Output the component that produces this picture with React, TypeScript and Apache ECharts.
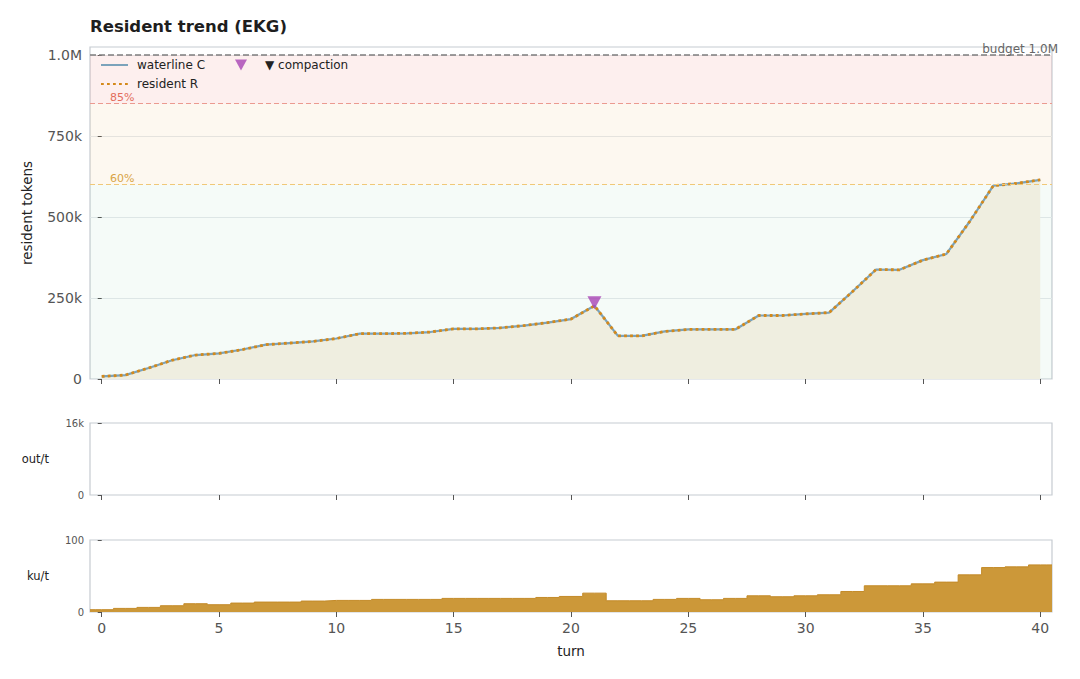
import React, { useEffect, useRef } from "react";
import * as echarts from "echarts";

const FONT = "DejaVu Sans";

// turn index = position in the arrays (0..40)
const waterline = [
  8000, 12000, 34000, 58000, 74000, 79000, 91000, 106000, 111000, 116000, 125000,
  140000, 140000, 141000, 145000, 155000, 155000, 158000, 165000, 174000, 185000,
  226000, 133000, 133000, 147000, 153000, 153000, 153000, 196000, 196000, 201000,
  205000, 270000, 338000, 337000, 367000, 386000, 487000, 597000, 604000, 615000,
];
const resident = [
  8000, 12000, 34000, 58000, 74000, 79000, 91000, 106000, 111000, 116000, 125000,
  140000, 140000, 141000, 145000, 155000, 155000, 158000, 165000, 174000, 185000,
  226000, 133000, 133000, 147000, 153000, 153000, 153000, 196000, 196000, 201000,
  205000, 270000, 338000, 337000, 367000, 386000, 487000, 597000, 604000, 615000,
];
const kuPerTurn = [
  3.2, 5.0, 6.4, 8.7, 11.5, 10.1, 12.4, 13.8, 13.8, 15.2, 16.1, 16.1, 17.5, 17.5,
  17.5, 18.9, 18.9, 18.9, 18.9, 20.2, 21.6, 26.2, 15.6, 15.6, 17.5, 18.9, 17.0,
  18.9, 22.5, 21.2, 22.5, 23.9, 28.5, 36.4, 36.4, 39.1, 41.5, 51.6, 61.7, 62.7, 65.4,
];
const outPerTurn: number[] = [];
const compactionTurns = [21];

const budget = 1000000;
const warnLevel = 600000; // 60%
const dangerLevel = 850000; // 85%
const xTicks = [0, 5, 10, 15, 20, 25, 30, 35, 40];
const yTicksTop = [0, 250000, 500000, 750000, 1000000];

const fmtTokens = (v: number) =>
  v === 0 ? "0" : v >= 1e6 ? (v / 1e6).toFixed(1) + "M" : Math.round(v / 1000) + "k";

const App: React.FC = () => {
  const chartRef = useRef<HTMLDivElement>(null);

  useEffect(() => {
    if (!chartRef.current) return;
    const chart = echarts.init(chartRef.current, undefined, { renderer: "svg" });

    const xy = (arr: number[]) => arr.map((v, i) => [i, v]);
    const stepData = [
      [-0.5, kuPerTurn[0]],
      ...xy(kuPerTurn),
      [40.5, kuPerTurn[kuPerTurn.length - 1]],
    ];

    const gridBase = {
      left: 90,
      right: 28,
      show: true,
      borderColor: "#c6cbd1",
      borderWidth: 1.2,
      backgroundColor: "transparent",
    };

    const xAxisBase = (idx: number, showLabels: boolean) => ({
      type: "value",
      gridIndex: idx,
      min: -0.5,
      max: 40.5,
      axisLine: { show: false },
      splitLine: { show: false },
      axisTick: {
        show: true,
        customValues: xTicks,
        length: 5,
        lineStyle: { color: "#555", width: 1 },
      },
      axisLabel: {
        show: showLabels,
        customValues: xTicks,
        color: "#555",
        fontSize: 14,
        fontFamily: FONT,
        margin: 9,
      },
    });

    const smallY = (idx: number, max: number, name: string, labels: number[]) => ({
      type: "value",
      gridIndex: idx,
      min: 0,
      max,
      interval: max,
      name,
      nameLocation: "middle",
      nameRotate: 0,
      nameGap: 41,
      nameTextStyle: { color: "#222", fontSize: 11.5, fontFamily: FONT },
      axisLine: { show: false },
      splitLine: { show: false },
      axisTick: {
        show: true,
        customValues: labels,
        length: 4,
        lineStyle: { color: "#555" },
      },
      axisLabel: {
        customValues: labels,
        color: "#555",
        fontSize: 10,
        fontFamily: FONT,
        margin: 6,
        formatter: (v: number) => (v >= 1000 ? v / 1000 + "k" : String(v)),
      },
    });

    const option = {
      animation: false,
      backgroundColor: "#fff",
      title: {
        text: "Resident trend (EKG)",
        left: 90,
        top: 18,
        padding: 0,
        textStyle: { fontSize: 16.5, fontWeight: "bold", color: "#1e1e1e", fontFamily: FONT },
      },
      legend: [
        {
          orient: "vertical",
          left: 100,
          top: 59,
          padding: 0,
          itemWidth: 27,
          itemHeight: 10,
          itemGap: 7,
          data: ["waterline C", "resident R"],
          itemStyle: { opacity: 0 },
          textStyle: { color: "#222", fontSize: 12, fontFamily: FONT, padding: [0, 0, 0, 4] },
        },
        {
          left: 235,
          top: 59,
          padding: 0,
          itemWidth: 12,
          itemHeight: 11,
          data: [{ name: "▼ compaction", icon: "path://M0,0 L10,0 L5,9 Z" }],
          textStyle: { color: "#222", fontSize: 12, fontFamily: FONT, padding: [0, 0, 0, 13] },
        },
      ],
      grid: [
        { ...gridBase, top: 47, height: 332 },
        { ...gridBase, top: 423, height: 72 },
        { ...gridBase, top: 540, height: 72 },
      ],
      xAxis: [
        xAxisBase(0, false),
        xAxisBase(1, false),
        {
          ...xAxisBase(2, true),
          name: "turn",
          nameLocation: "middle",
          nameGap: 32,
          nameTextStyle: { color: "#222", fontSize: 13.5, fontFamily: FONT },
        },
      ],
      yAxis: [
        {
          type: "value",
          gridIndex: 0,
          min: 0,
          max: 1025000,
          interval: 250000,
          name: "resident tokens",
          nameLocation: "middle",
          nameGap: 56,
          nameTextStyle: { color: "#222", fontSize: 13.5, fontFamily: FONT },
          axisLine: { show: false },
          splitLine: { show: true, lineStyle: { color: "#e6e9ec", width: 1 } },
          axisTick: {
            show: true,
            customValues: yTicksTop,
            length: 4,
            lineStyle: { color: "#555" },
          },
          axisLabel: {
            customValues: yTicksTop,
            color: "#555",
            fontSize: 14,
            fontFamily: FONT,
            margin: 8,
            formatter: fmtTokens,
          },
        },
        smallY(1, 16000, "out/t", [0, 16000]),
        smallY(2, 100, "ku/t", [0, 100]),
      ],
      series: [
        {
          name: "area",
          type: "line",
          xAxisIndex: 0,
          yAxisIndex: 0,
          data: xy(resident),
          symbol: "none",
          silent: true,
          lineStyle: { width: 0 },
          areaStyle: { color: "#efeee0", opacity: 1 },
          z: 1,
          markArea: {
            silent: true,
            data: [
              [{ yAxis: 0, itemStyle: { color: "rgba(60,170,110,0.05)" } }, { yAxis: warnLevel }],
              [{ yAxis: warnLevel, itemStyle: { color: "rgba(230,150,40,0.07)" } }, { yAxis: dangerLevel }],
              [{ yAxis: dangerLevel, itemStyle: { color: "rgba(230,80,70,0.09)" } }, { yAxis: budget }],
            ],
          },
          markLine: {
            silent: true,
            symbol: "none",
            data: [
              {
                yAxis: warnLevel,
                lineStyle: { color: "#f0c878", type: [5, 3], width: 1.2 },
                label: {
                  formatter: "60%",
                  position: "insideStartTop",
                  distance: [20, 1],
                  color: "#d9a446",
                  fontSize: 11,
                  fontFamily: FONT,
                },
              },
              {
                yAxis: dangerLevel,
                lineStyle: { color: "#eb9a90", type: [5, 3], width: 1.2 },
                label: {
                  formatter: "85%",
                  position: "insideStartTop",
                  distance: [20, 1],
                  color: "#e36d5c",
                  fontSize: 11,
                  fontFamily: FONT,
                },
              },
              {
                yAxis: budget,
                lineStyle: { color: "#7d7d7d", type: [6, 3], width: 1.5 },
                label: {
                  formatter: "budget 1.0M",
                  position: "insideEndTop",
                  distance: [-6, 0],
                  color: "#666",
                  fontSize: 12,
                  fontFamily: FONT,
                },
              },
            ],
          },
        },
        {
          name: "waterline C",
          type: "line",
          xAxisIndex: 0,
          yAxisIndex: 0,
          data: xy(waterline),
          symbol: "none",
          lineStyle: { color: "#7ba3bb", width: 2.2 },
          itemStyle: { color: "#7ba3bb" },
          z: 3,
        },
        {
          name: "resident R",
          type: "line",
          xAxisIndex: 0,
          yAxisIndex: 0,
          data: xy(resident),
          symbol: "none",
          lineStyle: { color: "#d4891a", width: 2.8, type: [2.8, 3.2] },
          itemStyle: { color: "#d4891a" },
          z: 4,
        },
        {
          name: "▼ compaction",
          type: "scatter",
          xAxisIndex: 0,
          yAxisIndex: 0,
          data: compactionTurns.map((t) => [t, resident[t]]),
          symbol: "triangle",
          symbolRotate: 180,
          symbolSize: [14, 13],
          symbolOffset: [0, -3],
          itemStyle: { color: "#a843b4" },
          z: 5,
        },
        {
          name: "out/t",
          type: "line",
          xAxisIndex: 1,
          yAxisIndex: 1,
          data: xy(outPerTurn),
          symbol: "none",
          lineStyle: { color: "#cc9838" },
        },
        {
          name: "ku/t",
          type: "line",
          xAxisIndex: 2,
          yAxisIndex: 2,
          step: "middle",
          data: stepData,
          symbol: "none",
          lineStyle: { color: "#c38a28", width: 1 },
          areaStyle: { color: "#cc9839", opacity: 1 },
        },
      ],
    };

    chart.setOption(option as any);
    return () => chart.dispose();
  }, []);

  return (
    <div
      ref={chartRef}
      style={{ position: "fixed", left: 0, top: 0, width: "1080px", height: "679px", background: "#fff" }}
    />
  );
};

export default App;
